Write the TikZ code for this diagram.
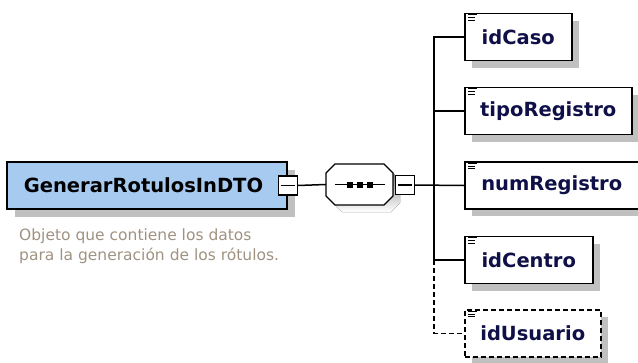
\documentclass[tikz,border=0pt]{standalone}
\usepackage{fontspec}
\setmainfont{DejaVu Sans}
\usetikzlibrary{shadows}

\definecolor{boxblue}{RGB}{166,202,240}
\definecolor{shade}{RGB}{192,192,192}
\definecolor{notegray}{RGB}{160,146,130}
\definecolor{elemtext}{RGB}{16,16,72}

\begin{document}
\begin{tikzpicture}[x=1pt,y=-1pt,
    elem/.style={draw,line width=1.5pt,fill=white,minimum height=47pt,anchor=west,
      general shadow={fill=shade,shadow xshift=7pt,shadow yshift=-7pt},
      font=\fontsize{19.5}{19.5}\selectfont\bfseries,text=elemtext},
    toggle/.style={draw,line width=1.2pt,fill=white,minimum size=19pt,inner sep=0pt},
    wire/.style={line width=1.5pt}]

        \useasboundingbox (0,0) rectangle (638,362);

        % root element and its note
        \node[draw,line width=1.5pt,fill=boxblue,minimum width=280pt,minimum height=47pt,
          general shadow={fill=shade,shadow xshift=8pt,shadow yshift=-8pt},
          font=\fontsize{19.5}{19.5}\selectfont\bfseries] (main) at (147,185.5)
          {\hspace*{-7pt}GenerarRotulosInDTO};
        \node[toggle] (mainplus) at (main.east) {};
        \node[anchor=north west,inner sep=0pt,align=left,text=notegray,
          font=\fontsize{15.5}{20}\selectfont] (note) at (19,229)
          {Objeto que contiene los datos\\para la generación de los rótulos.};

        % sequence compositor
        \begin{scope}[shift={(326,164)}]
          \fill[shade] (16,7) -- (65,7) -- (74,16) -- (74,39) -- (65,48) -- (16,48) -- (7,39) -- (7,16) -- cycle;
          \draw[line width=1.2pt,fill=white]
            (9,0) -- (58,0) -- (67,9) -- (67,32) -- (58,41) -- (9,41) -- (0,32) -- (0,9) -- cycle;
        \end{scope}
        \node[minimum width=67pt,minimum height=41pt,inner sep=0pt] (seq) at (359.5,184.5) {};
        \node[toggle] (seqplus) at (405,185) {};

        % child elements
        \node[elem,minimum width=107pt] (caso)   at (464,37)    {idCaso};
        \node[elem,minimum width=167pt] (tipo)   at (464,111)   {tipoRegistro};
        \node[elem,minimum width=174pt] (num)    at (464,185.5) {numRegistro};
        \node[elem,minimum width=128pt] (centro) at (464,260)   {idCentro};
        \node[elem,minimum width=136pt,dash pattern=on 5pt off 3pt] (usuario) at (464,333.5) {idUsuario};

        % toggles and dots
        \draw[line width=1.2pt] ([xshift=3pt]mainplus.west) -- ([xshift=-3pt]mainplus.east);
        \draw[line width=1.2pt] ([xshift=3pt]seqplus.west) -- ([xshift=-3pt]seqplus.east);
        \draw[line width=1.2pt] ([xshift=9pt]seq.west) -- ([xshift=-8pt]seq.east);
        \foreach \dx in {-10,0,10}
          \fill ([xshift=\dx pt]seq.center) +(-3,-3) rectangle +(3,3);

        % connectors
        \draw[wire] (mainplus.east) -- (seq.west);
        \draw[wire] (seqplus.east) -- (num.west);
        \draw[wire] (caso.west) -- ++(-30,0) |- (centro.west);
        \draw[wire] (tipo.west) -- ++(-30,0);
        \draw[wire,dash pattern=on 5pt off 3pt] (centro.west) ++(-30,0) |- (usuario.west);

        % element icons
        \foreach \n in {caso,tipo,num,centro,usuario} {
          \draw[line width=0.9pt] ([xshift=4pt,yshift=-2pt]\n.north west) -- ++(9,0);
          \draw[line width=0.9pt] ([xshift=4pt,yshift=-4.7pt]\n.north west) -- ++(7,0);
          \draw[line width=0.9pt] ([xshift=4pt,yshift=-7.4pt]\n.north west) -- ++(7,0);
        }

      \end{tikzpicture}
\end{document}
